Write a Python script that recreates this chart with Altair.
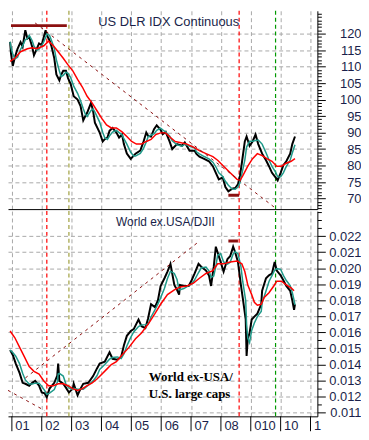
import altair as alt
import pandas as pd

# ---------------- data ----------------
# US Dollar index (top panel)
usd_t = [2000.94, 2000.97, 2001.03, 2001.10, 2001.19, 2001.29, 2001.36, 2001.45, 2001.52, 2001.58,
         2001.68, 2001.74, 2001.84, 2001.91, 2002.00, 2002.07, 2002.13, 2002.17, 2002.26, 2002.33,
         2002.42, 2002.49, 2002.59, 2002.65, 2002.72, 2002.81, 2002.88, 2002.97, 2003.07, 2003.20,
         2003.30, 2003.39, 2003.46, 2003.52, 2003.65, 2003.72, 2003.78, 2003.94, 2004.04, 2004.11,
         2004.20, 2004.27, 2004.37, 2004.50, 2004.59, 2004.69, 2004.75, 2004.85, 2004.98, 2005.08,
         2005.14, 2005.30, 2005.40, 2005.50, 2005.56, 2005.66, 2005.76, 2005.85, 2005.98, 2006.05,
         2006.15, 2006.28, 2006.37, 2006.53, 2006.70, 2006.79, 2006.95, 2007.12, 2007.18, 2007.28,
         2007.44, 2007.60, 2007.73, 2007.83, 2007.93, 2008.06, 2008.15, 2008.25, 2008.38, 2008.48,
         2008.57, 2008.64, 2008.70, 2008.80, 2008.86, 2008.96, 2009.06, 2009.16, 2009.25, 2009.38,
         2009.51, 2009.61, 2009.71, 2009.83, 2009.90, 2010.00, 2010.09, 2010.19, 2010.32, 2010.39,
         2010.48]
usd_v = [117.5, 114.0, 110.2, 112.8, 115.4, 117.4, 116.0, 121.0, 118.5, 119.0,
         116.0, 113.4, 115.5, 117.0, 116.5, 119.0, 121.0, 119.5, 118.0, 116.0,
         112.5, 107.6, 105.8, 107.5, 108.7, 108.7, 106.5, 104.7, 101.0, 100.0,
         98.0, 93.7, 95.0, 96.0, 99.0, 96.5, 93.0, 90.0, 87.3, 88.0,
         88.5, 90.5, 91.4, 90.0, 88.5, 89.4, 86.5, 83.6, 82.0, 83.0,
         83.6, 84.5, 87.0, 90.0, 89.0, 88.8, 91.0, 92.2, 90.8, 89.5,
         90.2, 87.3, 85.0, 86.5, 86.0, 87.0, 84.5, 84.5, 83.5, 82.7,
         82.0, 81.3, 79.8, 77.8, 75.8, 76.4, 73.5, 72.2, 73.0, 73.2,
         74.3, 77.0, 80.7, 87.3, 88.8, 86.0, 87.3, 89.4, 86.5, 83.6,
         81.6, 79.8, 77.8, 76.4, 75.5, 77.8, 80.1, 81.3, 83.6, 86.5,
         88.8]
usd_ma_t = [2000.94, 2001.10, 2001.29, 2001.52, 2001.68, 2001.84, 2002.07, 2002.23, 2002.39, 2002.55,
            2002.72, 2002.88, 2003.04, 2003.20, 2003.36, 2003.52, 2003.69, 2003.85, 2004.01, 2004.17,
            2004.33, 2004.50, 2004.69, 2004.85, 2005.01, 2005.17, 2005.34, 2005.50, 2005.66, 2005.82,
            2005.98, 2006.15, 2006.31, 2006.47, 2006.63, 2006.86, 2007.08, 2007.28, 2007.50, 2007.73,
            2007.89, 2008.09, 2008.31, 2008.54, 2008.64, 2008.73, 2008.90, 2009.06, 2009.22, 2009.38,
            2009.54, 2009.71, 2009.87, 2010.03, 2010.19, 2010.35, 2010.48]
usd_ma_v = [111.6, 112.5, 114.5, 115.4, 115.7, 115.4, 116.3, 117.7, 116.3, 114.5,
            112.5, 110.5, 108.7, 106.1, 103.8, 101.0, 98.9, 96.6, 94.3, 92.3,
            91.4, 91.4, 90.2, 88.8, 87.3, 86.5, 86.5, 87.3, 87.9, 89.4,
            89.9, 89.9, 88.5, 87.3, 87.0, 86.5, 85.6, 84.5, 83.6, 82.7,
            81.6, 79.8, 77.8, 75.8, 75.5, 76.9, 79.8, 82.1, 83.6, 83.0,
            82.1, 81.3, 79.8, 79.8, 80.7, 81.3, 82.1]

# World ex-USA / DJII ratio (bottom panel)
ratio_t = [2000.94, 2001.03, 2001.13, 2001.26, 2001.36, 2001.45, 2001.58, 2001.68, 2001.78, 2001.91,
           2002.00, 2002.10, 2002.17, 2002.26, 2002.42, 2002.52, 2002.55, 2002.59, 2002.72, 2002.81,
           2002.91, 2003.04, 2003.07, 2003.20, 2003.30, 2003.39, 2003.56, 2003.72, 2003.85, 2003.94,
           2004.11, 2004.27, 2004.37, 2004.53, 2004.66, 2004.75, 2004.85, 2004.98, 2005.08, 2005.24,
           2005.34, 2005.47, 2005.56, 2005.66, 2005.79, 2005.89, 2005.98, 2006.11, 2006.21, 2006.31,
           2006.44, 2006.53, 2006.60, 2006.63, 2006.76, 2006.92, 2007.02, 2007.12, 2007.25, 2007.34,
           2007.50, 2007.60, 2007.67, 2007.76, 2007.83, 2007.89, 2007.99, 2008.09, 2008.22, 2008.31,
           2008.41, 2008.48, 2008.57, 2008.67, 2008.73, 2008.83, 2008.86, 2008.90, 2008.96, 2009.03,
           2009.12, 2009.22, 2009.35, 2009.38, 2009.51, 2009.61, 2009.71, 2009.80, 2009.87, 2010.00,
           2010.09, 2010.19, 2010.32, 2010.39, 2010.45, 2010.48]
ratio_v = [0.01489, 0.01459, 0.01405, 0.01345, 0.01285, 0.01279, 0.01267, 0.01285, 0.01297, 0.01267,
           0.01225, 0.01219, 0.01195, 0.01249, 0.01285, 0.01330, 0.01405, 0.01297, 0.01279, 0.01255,
           0.01225, 0.01249, 0.01279, 0.01207, 0.01249, 0.01279, 0.01285, 0.01327, 0.01375, 0.01405,
           0.01417, 0.01476, 0.01435, 0.01429, 0.01447, 0.01518, 0.01578, 0.01608, 0.01620, 0.01680,
           0.01638, 0.01626, 0.01686, 0.01775, 0.01757, 0.01799, 0.01889, 0.01937, 0.01979, 0.02027,
           0.01895, 0.01865, 0.01835, 0.01895, 0.01889, 0.01889, 0.01925, 0.01967, 0.02027, 0.02009,
           0.01985, 0.01955, 0.01889, 0.02009, 0.02134, 0.02098, 0.02039, 0.01979, 0.02057, 0.02074,
           0.02134, 0.02098, 0.02039, 0.01895, 0.01817, 0.01680, 0.01453, 0.01560, 0.01596, 0.01680,
           0.01698, 0.01716, 0.01775, 0.01859, 0.01937, 0.01955, 0.01967, 0.02039, 0.01985, 0.01955,
           0.01925, 0.01889, 0.01859, 0.01799, 0.01740, 0.01775]
ratio_ma_t = [2000.94, 2001.10, 2001.26, 2001.42, 2001.58, 2001.74, 2001.91, 2002.07, 2002.23, 2002.39,
              2002.55, 2002.72, 2002.88, 2003.04, 2003.20, 2003.36, 2003.52, 2003.69, 2003.85, 2004.01,
              2004.17, 2004.33, 2004.50, 2004.69, 2004.92, 2005.14, 2005.34, 2005.56, 2005.79, 2005.98,
              2006.21, 2006.44, 2006.63, 2006.86, 2007.08, 2007.28, 2007.50, 2007.73, 2007.89, 2008.09,
              2008.31, 2008.54, 2008.70, 2008.80, 2008.90, 2009.03, 2009.12, 2009.22, 2009.35, 2009.45,
              2009.61, 2009.77, 2009.87, 2010.03, 2010.19, 2010.35, 2010.45]
ratio_ma_v = [0.01608, 0.01566, 0.01506, 0.01447, 0.01387, 0.01357, 0.01339, 0.01297, 0.01267, 0.01267,
              0.01279, 0.01279, 0.01267, 0.01249, 0.01237, 0.01249, 0.01267, 0.01285, 0.01309, 0.01339,
              0.01369, 0.01399, 0.01417, 0.01459, 0.01506, 0.01560, 0.01596, 0.01650, 0.01716, 0.01775,
              0.01835, 0.01865, 0.01883, 0.01889, 0.01907, 0.01937, 0.01967, 0.01985, 0.02027, 0.02027,
              0.02039, 0.02045, 0.02027, 0.01979, 0.01895, 0.01835, 0.01787, 0.01769, 0.01775, 0.01817,
              0.01847, 0.01889, 0.01919, 0.01919, 0.01895, 0.01877, 0.01859]

# hand-drawn annotations
usd_trend_t = [2001.78, 2009.87]
usd_trend_v = [123.2, 66.8]
usd_top_bar_t = [2000.97, 2002.84]
usd_top_bar_v = [122.4, 122.4]
usd_low_bar_t = [2008.25, 2008.61]
usd_low_bar_v = [71.0, 71.0]
ratio_trend1_t = [2000.87, 2002.10]
ratio_trend1_v = [0.01238, 0.01112]
ratio_trend2_t = [2001.45, 2007.25]
ratio_trend2_v = [0.01315, 0.02164]
ratio_bar_t = [2008.25, 2008.57]
ratio_bar_v = [0.0217, 0.0217]
vline_t = [2002.17, 2002.91, 2008.61, 2009.83]
vline_color = ["#ff0000", "#a0a040", "#ff0000", "#009900"]

year_ticks = [2001, 2002, 2003, 2004, 2005, 2006, 2007, 2008, 2009, 2010, 2011]
year_labels = ["01", "02", "03", "04", "05", "06", "07", "08", "010", "10", "1"]
usd_ticks = [70, 75, 80, 85, 90, 95, 100, 105, 110, 115, 120]
ratio_ticks = [0.011, 0.012, 0.013, 0.014, 0.015, 0.016, 0.017, 0.018, 0.019, 0.020, 0.021, 0.022]

# ---------------- styling ----------------
W = 312
H_TOP = 200
H_BOT = 207
X_DOMAIN = [2000.87, 2011.23]
TXT = "#1a1f4a"
GRID = "#a8a8a8"
FONT = "Liberation Sans"
DARKRED = "#8b1010"
TEAL = "#1f9a8a"

label_arr = "[" + ",".join("'%s'" % s for s in year_labels) + "]"

x_top = alt.X("t:Q", scale=alt.Scale(domain=X_DOMAIN, nice=False, zero=False), title=None,
              axis=alt.Axis(values=year_ticks, labels=False, ticks=False, domain=True,
                            domainColor="black", grid=True, gridColor=GRID, gridDash=[4, 3]))
x_bot = alt.X("t:Q", scale=alt.Scale(domain=X_DOMAIN, nice=False, zero=False), title=None,
              axis=alt.Axis(values=year_ticks, labelExpr=label_arr + "[datum.value - 2001]",
                            ticks=False, labelAlign="left", labelBaseline="top",
                            labelPadding=3, labelOffset=3, labelFont=FONT, labelFontSize=13,
                            labelColor=TXT, labelOverlap=False, labelBound=False,
                            domainColor="black", grid=True, gridColor=GRID, gridDash=[4, 3]))

usd_all_ticks = list(range(67, 127))
is5 = "datum.value % 5 === 0 && datum.value <= 120"
y_top = alt.Y("v:Q", scale=alt.Scale(domain=[66.8, 126.9], nice=False, zero=False), title=None,
              axis=alt.Axis(orient="right", values=usd_all_ticks, labelFlush=False,
                            labelExpr="(" + is5 + ") ? datum.label : ''",
                            labelFontSize={"condition": {"test": is5, "value": 13}, "value": 0},
                            tickSize={"condition": {"test": is5, "value": 8}, "value": 4},
                            gridOpacity={"condition": {"test": is5, "value": 1}, "value": 0},
                            tickColor="black", domainColor="black", grid=True, gridColor=GRID,
                            gridDash=[4, 3], labelAlign="right", labelPadding=36,
                            labelFont=FONT, labelColor=TXT, labelOverlap=False))

ratio_all_ticks = [round(0.0105 + 0.0005 * i, 4) for i in range(27)]
is1 = "abs(datum.value*1000 - round(datum.value*1000)) < 0.01 && datum.value < 0.0225"
y_bot = alt.Y("v:Q", scale=alt.Scale(domain=[0.01076, 0.02356], nice=False, zero=False), title=None,
              axis=alt.Axis(orient="right", values=ratio_all_ticks, format=".3f", labelFlush=False,
                            labelExpr="(" + is1 + ") ? datum.label : ''",
                            labelFontSize={"condition": {"test": is1, "value": 13}, "value": 0},
                            tickSize={"condition": {"test": is1, "value": 8}, "value": 4},
                            gridOpacity={"condition": {"test": is1, "value": 1}, "value": 0},
                            tickColor="black", domainColor="black", grid=True, gridColor=GRID,
                            gridDash=[4, 3], labelAlign="right", labelPadding=36,
                            labelFont=FONT, labelColor=TXT, labelOverlap=False))


def panel(price_t, price_v, ma_t, ma_v, x_enc, y_enc, extras, width, height):
    price = pd.DataFrame({"t": price_t, "v": price_v})
    ma = pd.DataFrame({"t": ma_t, "v": ma_v})
    vl = pd.DataFrame({"t": vline_t, "c": vline_color})
    base_price = alt.Chart(price)
    layers = [
        alt.Chart(vl).mark_rule(strokeDash=[4, 3], strokeWidth=1.2).encode(
            x=x_enc, color=alt.Color("c:N", scale=None)),
        base_price.mark_line(color="black", strokeWidth=2, clip=True).encode(x=x_enc, y=y_enc),
        base_price.transform_window(m="mean(v)", frame=[-2, 0], sort=[alt.SortField("t")])
        .transform_calculate(v="datum.m")
        .mark_line(color=TEAL, strokeWidth=1.5, clip=True).encode(x=x_enc, y=y_enc),
        alt.Chart(ma).mark_line(color="#ff0000", strokeWidth=1.5, clip=True).encode(x=x_enc, y=y_enc),
    ]
    layers += extras
    return alt.layer(*layers).properties(width=width, height=height)


def seg(ts, vs, x_enc, y_enc, dashed):
    df = pd.DataFrame({"t": ts, "v": vs})
    if dashed:
        m = alt.Chart(df).mark_line(color=DARKRED, strokeWidth=1, strokeDash=[3, 4], clip=True)
    else:
        m = alt.Chart(df).mark_line(color=DARKRED, strokeWidth=3, clip=True)
    return m.encode(x=x_enc, y=y_enc)


def label(txt, px, py, size, font, weight, color, align="left"):
    return alt.Chart(pd.DataFrame({"s": [txt]})).mark_text(
        align=align, baseline="middle", font=font, fontSize=size, fontWeight=weight, color=color
    ).encode(text="s:N", x=alt.value(px), y=alt.value(py))


# tall separator ticks under the time axis
year_sep = alt.Chart(pd.DataFrame({"t": year_ticks})).mark_rule(color="black", strokeWidth=1).encode(
    x=x_bot, y=alt.value(H_BOT), y2=alt.value(H_BOT + 15))

top_extras = [
    seg(usd_trend_t, usd_trend_v, x_top, y_top, True),
    seg(usd_top_bar_t, usd_top_bar_v, x_top, y_top, False),
    seg(usd_low_bar_t, usd_low_bar_v, x_top, y_top, False),
    label("US DLR IDX Continuous", 91, 11, 13, FONT, "normal", TXT),
]
bot_extras = [
    seg(ratio_trend1_t, ratio_trend1_v, x_bot, y_bot, True),
    seg(ratio_trend2_t, ratio_trend2_v, x_bot, y_bot, True),
    seg(ratio_bar_t, ratio_bar_v, x_bot, y_bot, False),
    year_sep,
    label("World ex.USA/DJII", 109, 11, 12, FONT, "normal", TXT),
    label("World ex-USA/", 142, 167, 13, "Liberation Serif", "bold", "black"),
    label("U.S. large caps", 142, 184, 13, "Liberation Serif", "bold", "black"),
]

top = panel(usd_t, usd_v, usd_ma_t, usd_ma_v, x_top, y_top, top_extras, W, H_TOP)
bot = panel(ratio_t, ratio_v, ratio_ma_t, ratio_ma_v, x_bot, y_bot, bot_extras, W, H_BOT)

chart = alt.vconcat(top, bot, spacing=0).properties(
    padding={"left": 0, "top": 0, "right": 0, "bottom": 0}
).configure_view(stroke=None)

chart.save("out.html", embed_options={"renderer": "svg", "actions": False})
